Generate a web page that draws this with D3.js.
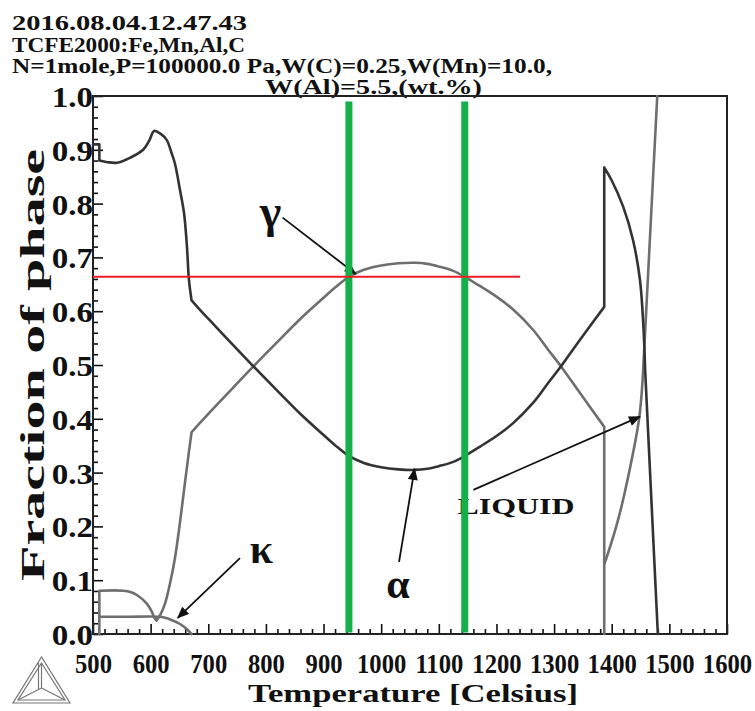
<!DOCTYPE html>
<html>
<head>
<meta charset="utf-8">
<script src="https://cdn.jsdelivr.net/npm/d3@7"></script>
<style>
  body { margin: 0; background: #fff; }
  svg { display: block; }
  text { font-family: "Liberation Serif", "Times New Roman", serif; font-weight: bold; fill: #111; }
</style>
</head>
<body>
<svg id="chart" width="755" height="711"></svg>
<script>
// ---- header text ----
const headerLines = [
  "2016.08.04.12.47.43",
  "TCFE2000:Fe,Mn,Al,C",
  "N=1mole,P=100000.0 Pa,W(C)=0.25,W(Mn)=10.0,",
  "W(Al)=5.5,(wt.%)"
];

// ---- axes ----
const xMajorTicks = [500, 600, 700, 800, 900, 1000, 1100, 1200, 1300, 1400, 1500, 1600];
const yMajorTicks = [0.0, 0.1, 0.2, 0.3, 0.4, 0.5, 0.6, 0.7, 0.8, 0.9, 1.0];
const xLabel = "Temperature [Celsius]";
const yLabel = "Fraction of phase";

// ---- phase fractions: [temperature °C, fraction] ----
// BCC (alpha, continuing as delta ferrite above the gamma range)
const alphaPhase = [
  [500, 0.91], [511, 0.91], [511, 0.88], [525, 0.877], [542, 0.876], [564, 0.885],
  [587, 0.9], [598, 0.918], [606, 0.935], [617, 0.93], [628, 0.918], [636, 0.895],
  [642, 0.875], [651, 0.825], [658, 0.782], [663, 0.72], [666.5, 0.658], [671, 0.62],
  [686, 0.602], [700, 0.586], [730, 0.552], [777, 0.499], [820, 0.452], [860, 0.409],
  [900, 0.37], [920, 0.351], [944, 0.331], [970, 0.318], [1000, 0.31], [1030, 0.306],
  [1058, 0.305], [1080, 0.307], [1100, 0.312], [1125, 0.32], [1145, 0.331], [1171, 0.348],
  [1200, 0.368], [1228, 0.391], [1263, 0.429], [1290, 0.467], [1313, 0.499], [1345, 0.547],
  [1387, 0.608], [1387, 0.867], [1400, 0.843], [1420, 0.794], [1437, 0.732], [1449, 0.658],
  [1455, 0.571], [1458, 0.49], [1480, 0.0]
];
const alphaCorners = [671, 1458];
// FCC (gamma)
const gammaPhase = [
  [511, 0.0], [511, 0.0805], [553, 0.0805], [565, 0.078], [576, 0.0725], [593, 0.057],
  [602, 0.0415], [606, 0.031], [610, 0.025], [616, 0.034], [625, 0.057], [633.6, 0.094],
  [642, 0.14], [650, 0.2], [660, 0.285], [666, 0.335], [671, 0.375], [686, 0.393],
  [700, 0.409], [730, 0.443], [777, 0.496], [820, 0.543], [860, 0.586], [900, 0.625],
  [920, 0.644], [944, 0.664], [970, 0.677], [1000, 0.685], [1030, 0.689], [1058, 0.69],
  [1080, 0.688], [1100, 0.683], [1125, 0.675], [1145, 0.664], [1171, 0.647], [1200, 0.627],
  [1228, 0.604], [1263, 0.566], [1290, 0.528], [1313, 0.496], [1345, 0.448], [1387, 0.385],
  [1387, 0.0]
];
const gammaCorners = [610, 671];
// kappa carbide
const kappaPhase = [
  [511, 0.032], [560, 0.032], [616, 0.032], [625, 0.03], [634, 0.027], [651, 0.0186],
  [663, 0.009], [671, 0.0]
];
const kappaCorners = [];
// liquid
const liquidPhase = [
  [1387, 0.13], [1392, 0.145], [1411, 0.212], [1431, 0.305], [1448, 0.404],
  [1455, 0.5], [1479, 1.0]
];
const liquidCorners = [1455];

// ---- overlay guide lines ----
const guideTemps = [944, 1145];
const guideFraction = 0.664;
const guideFractionRange = [500, 1241];

// ---- annotations: label position and arrow [tail, tip] in data units ----
const phaseLabels = [
  { text: "\u03B3", at: [808, 0.786], size: 46, arrow: [[829, 0.774], [956, 0.669]] },
  { text: "\u03BA", at: [792, 0.16], size: 42, arrow: [[755, 0.141], [647, 0.030]] },
  { text: "\u03B1", at: [1029, 0.094], size: 42, arrow: [[1031, 0.134], [1058, 0.307]] },
  { text: "LIQUID", at: [1234, 0.238], size: 24, width: 117, arrow: [[1160, 0.268], [1449, 0.404]] }
];

const svg = d3.select("#chart");
const W = 755, H = 711;
svg.append("rect").attr("width", W).attr("height", H).attr("fill", "#fff");

const x = d3.scaleLinear().domain([500, 1600]).range([93, 727]);
const y = d3.scaleLinear().domain([0, 1]).range([634, 96]);

const defs = svg.append("defs");
defs.append("marker")
  .attr("id", "head")
  .attr("viewBox", "0 0 12 10")
  .attr("refX", 11).attr("refY", 5)
  .attr("markerWidth", 13).attr("markerHeight", 10)
  .attr("markerUnits", "userSpaceOnUse")
  .attr("orient", "auto")
  .append("path").attr("d", "M0,0 L12,5 L0,10 Z").attr("fill", "#111");

// header
const headerPos = [
  { x: 12, y: 30, len: 235 },
  { x: 12, y: 52, len: 233 },
  { x: 12, y: 73, len: 540 },
  { x: 265, y: 94, len: 217 }
];
headerLines.forEach((t, i) => {
  const p = headerPos[i];
  svg.append("text")
    .attr("x", p.x).attr("y", p.y)
    .attr("font-size", 20.5)
    .attr("textLength", p.len)
    .attr("lengthAdjust", "spacingAndGlyphs")
    .text(t);
});

// ticks (inside the frame)
const xMinor = d3.range(500, 1601, 20).filter(v => v % 100 !== 0);
const yMinor = d3.range(0, 51, 1).filter(i => i % 5 !== 0).map(i => i / 50);

const gx = svg.append("g").attr("transform", `translate(0,${y(0)})`);
gx.call(d3.axisBottom(x).tickValues(xMinor).tickSizeInner(-5).tickSizeOuter(0).tickFormat(""));
gx.call(g => g.select(".domain").remove());
const gxMaj = svg.append("g").attr("transform", `translate(0,${y(0)})`);
gxMaj.call(d3.axisBottom(x).tickValues(xMajorTicks).tickSizeInner(-10).tickSizeOuter(0).tickFormat(d3.format("d")));
gxMaj.call(g => g.select(".domain").remove());
gxMaj.selectAll(".tick text")
  .attr("y", 39).attr("dy", null)
  .attr("font-size", 28)
  .attr("font-family", null)
  .attr("transform", "scale(0.88,1)")
  .attr("fill", "#111");

const gy = svg.append("g").attr("transform", `translate(${x(500)},0)`);
gy.call(d3.axisLeft(y).tickValues(yMinor).tickSizeInner(-5).tickSizeOuter(0).tickFormat(""));
gy.call(g => g.select(".domain").remove());
const gyMaj = svg.append("g").attr("transform", `translate(${x(500)},0)`);
gyMaj.call(d3.axisLeft(y).tickValues(yMajorTicks).tickSizeInner(-10).tickSizeOuter(0).tickFormat(d3.format(".1f")));
gyMaj.call(g => g.select(".domain").remove());
gyMaj.selectAll(".tick text")
  .attr("x", 0).attr("dy", "0.36em")
  .attr("font-size", 29)
  .attr("font-family", null)
  .attr("transform", "scale(1.14,1)")
  .attr("fill", "#111");
svg.selectAll(".tick line").attr("stroke", "#111").attr("stroke-width", 1.6);

// frame
svg.append("rect")
  .attr("x", x(500)).attr("y", y(1))
  .attr("width", x(1600) - x(500)).attr("height", y(0) - y(1))
  .attr("fill", "none").attr("stroke", "#222").attr("stroke-width", 2);

// phase curves: smooth between corners, straight across vertical steps
const smooth = d3.line().x(d => x(d[0])).y(d => y(d[1])).curve(d3.curveCatmullRom.alpha(0.5));
function splitAtCorners(data, corners) {
  const out = [];
  let cur = [data[0]];
  for (let i = 1; i < data.length; i++) {
    const p = data[i], q = data[i - 1];
    if (p[0] === q[0]) {
      if (cur.length > 1) out.push(cur);
      out.push([q, p]);
      cur = [p];
    } else {
      cur.push(p);
      if (corners.includes(p[0])) { out.push(cur); cur = [p]; }
    }
  }
  if (cur.length > 1) out.push(cur);
  return out;
}
function curvePath(data, corners) {
  return splitAtCorners(data, corners).map(seg => smooth(seg)).join("");
}
const curves = [
  { data: gammaPhase, corners: gammaCorners, color: "#6e6e6e" },
  { data: kappaPhase, corners: kappaCorners, color: "#6e6e6e" },
  { data: liquidPhase, corners: liquidCorners, color: "#6e6e6e" },
  { data: alphaPhase, corners: alphaCorners, color: "#333" }
];
svg.append("g").selectAll("path").data(curves).join("path")
  .attr("d", d => curvePath(d.data, d.corners))
  .attr("fill", "none")
  .attr("stroke", d => d.color)
  .attr("stroke-width", 2.6)
  .attr("stroke-linejoin", "round")
  .attr("stroke-linecap", "round");

// annotations
const ann = svg.append("g");
phaseLabels.forEach(l => {
  ann.append("line")
    .attr("x1", x(l.arrow[0][0])).attr("y1", y(l.arrow[0][1]))
    .attr("x2", x(l.arrow[1][0])).attr("y2", y(l.arrow[1][1]))
    .attr("stroke", "#111").attr("stroke-width", 1.8)
    .attr("marker-end", "url(#head)");
  const t = ann.append("text")
    .attr("x", x(l.at[0])).attr("y", y(l.at[1]))
    .attr("text-anchor", "middle").attr("dy", "0.35em")
    .attr("font-size", l.size)
    .text(l.text);
  if (l.width) t.attr("textLength", l.width).attr("lengthAdjust", "spacingAndGlyphs");
});

// guide lines
svg.append("g").selectAll("line").data(guideTemps).join("line")
  .attr("x1", d => x(d)).attr("x2", d => x(d))
  .attr("y1", y(0.99)).attr("y2", y(0.003))
  .attr("stroke", "#15b04a").attr("stroke-width", 7);
svg.append("line")
  .attr("x1", x(guideFractionRange[0])).attr("x2", x(guideFractionRange[1]))
  .attr("y1", y(guideFraction)).attr("y2", y(guideFraction))
  .attr("stroke", "#ee1c24").attr("stroke-width", 2);

// axis titles
svg.append("text")
  .attr("transform", `translate(44,${(y(0) + y(1)) / 2}) rotate(-90)`)
  .attr("text-anchor", "middle")
  .attr("font-size", 34)
  .attr("textLength", 432).attr("lengthAdjust", "spacingAndGlyphs")
  .text(yLabel);
svg.append("text")
  .attr("x", 413).attr("y", 702)
  .attr("text-anchor", "middle")
  .attr("font-size", 26)
  .attr("textLength", 330).attr("lengthAdjust", "spacingAndGlyphs")
  .text(xLabel);

// software logo
const logo = svg.append("g").attr("transform", "translate(41.5,688)")
  .attr("fill", "none").attr("stroke", "#777").attr("stroke-width", 1.2);
const outer = [[0, -31], [-28.5, 15], [28.5, 15]];
const inner = [[0, -25], [-23.5, 12], [23.5, 12]];
logo.append("polygon").attr("points", outer.join(" "));
logo.append("polygon").attr("points", inner.join(" "));
inner.forEach(p => logo.append("line").attr("x1", 0).attr("y1", 0).attr("x2", p[0]).attr("y2", p[1]));
logo.append("line").attr("x1", -3).attr("y1", -25).attr("x2", -3).attr("y2", 1);
</script>
</body>
</html>
